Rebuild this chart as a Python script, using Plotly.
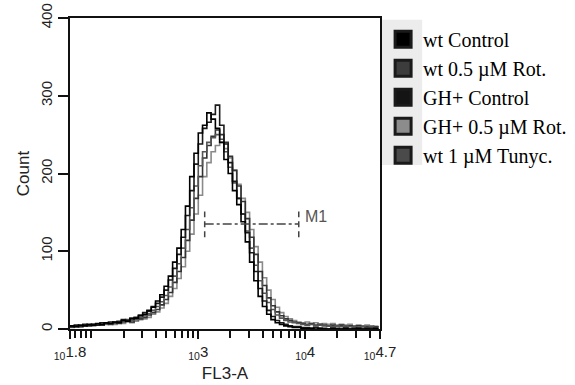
import plotly.graph_objects as go

# ---- data ----
# histogram channels, log10(FL3-A) bin positions
log_channels = [round(1.80 + 0.04 * i, 2) for i in range(73)]

series_names = ["wt Control", "wt 0.5 \u00b5M Rot.", "GH+ Control",
                "GH+ 0.5 \u00b5M Rot.", "wt 1 \u00b5M Tunyc."]

wt_control = [4, 3, 5, 4, 6, 5, 7, 6, 8, 7, 9, 8, 11, 10, 13,
              14, 17, 19, 24, 28, 36, 44, 55, 68, 86,
              104, 128, 158, 196, 226, 252, 262, 278, 270, 258,
              240, 218, 200, 178, 160, 138, 112, 86, 62, 42,
              29, 19, 12, 8, 6, 4, 3, 2, 2, 1,
              1, 1, 0, 1, 0, 0, 1, 0, 0, 1, 0, 0, 1, 0, 0, 0, 1, 0]

wt_rot = [3, 4, 3, 5, 4, 5, 6, 5, 7, 6, 8, 7, 9, 10, 9,
          12, 13, 15, 18, 21, 25, 31, 38, 47, 60,
          74, 92, 114, 140, 168, 196, 220, 236, 248, 256,
          250, 240, 222, 204, 184, 164, 142, 118, 96, 74,
          56, 40, 30, 22, 17, 13, 11, 9, 8, 7,
          6, 7, 5, 6, 5, 4, 5, 4, 5, 3, 4, 3, 4, 3, 3, 2, 3, 2]

gh_control = [3, 5, 4, 6, 5, 6, 5, 8, 7, 9, 8, 10, 12, 11, 14,
              15, 18, 21, 23, 29, 33, 41, 50, 63, 78,
              96, 118, 146, 178, 212, 238, 258, 266, 276, 288,
              262, 238, 214, 190, 168, 148, 124, 98, 74, 52,
              36, 24, 16, 11, 8, 6, 4, 3, 3, 2,
              2, 1, 2, 1, 1, 0, 1, 1, 0, 1, 0, 1, 0, 0, 1, 0, 0, 1]

gh_rot = [2, 4, 3, 4, 5, 4, 6, 5, 6, 7, 6, 8, 7, 9, 8,
          10, 12, 13, 15, 19, 22, 27, 33, 42, 52,
          65, 80, 100, 122, 148, 172, 196, 214, 228, 236,
          240, 232, 220, 204, 186, 168, 150, 128, 106, 86,
          66, 50, 38, 28, 21, 16, 13, 11, 9, 8,
          9, 7, 8, 6, 7, 6, 7, 5, 6, 5, 6, 4, 5, 4, 5, 4, 3, 4]

wt_tunyc = [3, 3, 4, 5, 4, 6, 5, 6, 8, 7, 9, 8, 10, 12, 11,
            13, 15, 17, 20, 24, 29, 35, 43, 54, 68,
            84, 104, 128, 156, 184, 210, 228, 240, 246, 250,
            244, 228, 208, 188, 168, 148, 126, 104, 82, 62,
            46, 34, 25, 18, 14, 11, 9, 8, 7, 6,
            5, 6, 4, 5, 4, 4, 3, 4, 3, 4, 3, 3, 2, 3, 2, 3, 2, 2]

series_values = [wt_control, wt_rot, gh_control, gh_rot, wt_tunyc]
series_colors = ["#000000", "#3c3c3c", "#141414", "#8c8c8c", "#4a4a4a"]
line_colors = ["#000000", "#333333", "#1a1a1a", "#8a8a8a", "#555555"]
# draw order (back to front)
draw_order = [3, 1, 4, 2, 0]

# M1 marker gate
m1_range_log = [3.06, 3.94]
m1_level = 135
m1_bar = [118, 151]

# axis ticks
x_tick_exps = [1.8, 3, 4, 4.7]
x_tick_text = ["<sub>10</sub>1.8", "<sub>10</sub>3", "<sub>10</sub>4", "<sub>10</sub>4.7"]
y_tick_vals = [0, 100, 200, 300, 400]

# ---- figure ----
fig = go.Figure()
xvals = [10 ** v for v in log_channels]

for i in draw_order:
    fig.add_trace(go.Scatter(
        x=xvals, y=series_values[i], mode="lines",
        line=dict(color=line_colors[i], width=1.6, shape="hv"),
        showlegend=False, hoverinfo="skip"))

# M1 marker
m1x = [10 ** v for v in m1_range_log]
fig.add_trace(go.Scatter(x=m1x, y=[m1_level, m1_level], mode="lines",
                         line=dict(color="#444444", width=1.5, dash="dashdot"),
                         showlegend=False, hoverinfo="skip"))
for xv in m1x:
    fig.add_trace(go.Scatter(x=[xv, xv], y=m1_bar, mode="lines",
                             line=dict(color="#444444", width=1.5, dash="6px,4px"),
                             showlegend=False, hoverinfo="skip"))
fig.add_annotation(x=m1_range_log[1] + 0.04, y=m1_level + 10, xref="x", yref="y",
                   text="M1", showarrow=False, xanchor="left", yanchor="middle",
                   font=dict(family="Liberation Sans, Arial", size=16, color="#555555"))

# legend entries (square swatches)
for i, name in enumerate(series_names):
    fig.add_trace(go.Scatter(
        x=[None], y=[None], mode="markers", name=name, legendgroup=name,
        marker=dict(symbol="square", size=16, color=series_colors[i],
                    line=dict(color="#1a1a1a", width=3))))

minor_ticks = []
for e in [1, 2, 3, 4]:
    for k in range(2, 10):
        v = k * 10 ** e
        if 10 ** 1.8 < v < 10 ** 4.7:
            minor_ticks.append(v)
minor_ticks.append(100)

fig.update_layout(
    width=575, height=385,
    margin=dict(l=70, r=195, t=18, b=56, autoexpand=False),
    paper_bgcolor="white", plot_bgcolor="white",
    font=dict(family="Liberation Sans, Arial", color="#222222"),
    legend=dict(x=1.01, xanchor="left", y=0.994, yanchor="top",
                bgcolor="rgba(0,0,0,0)", borderwidth=0,
                font=dict(family="Liberation Serif, Times New Roman", size=20, color="#000000"),
                tracegroupgap=0, traceorder="grouped", itemwidth=30),
    shapes=[dict(type="rect", xref="paper", yref="paper",
                 x0=1.0, x1=1.136, y0=0.527, y1=0.994,
                 fillcolor="#ececec", line=dict(width=0), layer="below")],
)

fig.update_xaxes(
    type="log", range=[1.8, 4.7], automargin=False,
    tickmode="array", tickvals=[10 ** e for e in x_tick_exps], ticktext=x_tick_text,
    ticks="outside", ticklen=8, tickwidth=1.5, tickcolor="#111111",
    minor=dict(tickmode="array", tickvals=minor_ticks, ticks="outside",
               ticklen=7, tickwidth=1.5, tickcolor="#111111"),
    showline=True, linecolor="#111111", linewidth=2, mirror=True,
    showgrid=False, zeroline=False,
    tickfont=dict(size=15, color="#222222"),
    title=dict(text="FL3-A", font=dict(size=17, color="#222222"), standoff=6),
)
fig.update_yaxes(
    range=[0, 400], tickmode="array", tickvals=y_tick_vals, automargin=False,
    ticks="outside", ticklen=10, tickwidth=1.5, tickcolor="#111111",
    tickangle=-90, ticklabelstandoff=0,
    showline=True, linecolor="#111111", linewidth=2, mirror=True,
    showgrid=False, zeroline=False,
    tickfont=dict(size=15, color="#222222"),
    title=dict(text="Count", font=dict(size=17, color="#222222"), standoff=4),
)

# remove the default page margin so the figure fills the window exactly
fig.write_html("out.html", config={"displayModeBar": False},
               post_script="document.body.style.margin='0';document.body.style.overflow='hidden';")
